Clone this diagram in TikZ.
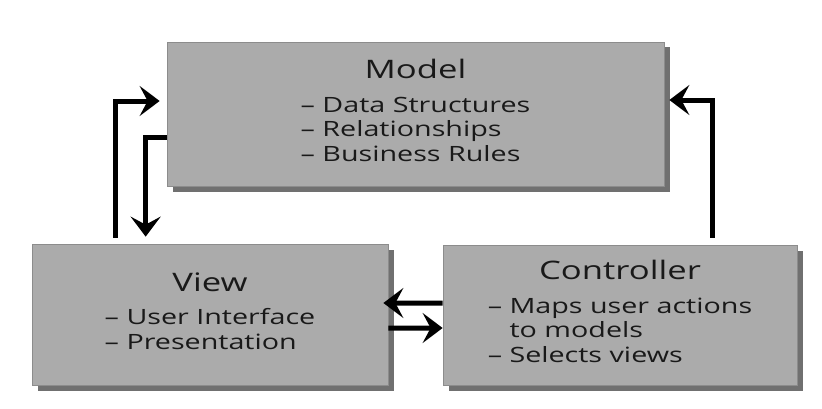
\documentclass[tikz,border=0pt]{standalone}
\usepackage{fontspec}
\setmainfont{Open Sans}[FakeStretch=1.36]
\usepackage{tikz}
\usetikzlibrary{arrows.meta}
\usetikzlibrary{shadows}
\colorlet{boxcol}{black!33}
\colorlet{inkcol}{black!90}
\tikzset{>={Stealth[length=4mm,width=6mm,inset=1.6mm]}}
\tikzset{
  mvcbox/.style={draw=black!45, thin, fill=boxcol, text=inkcol, align=center,
    font=\fontsize{12}{14}\selectfont,
    drop shadow={shadow xshift=0.11cm, shadow yshift=-0.11cm, fill=black!62, opacity=0.9}},
  flow/.style={->, line width=0.1cm, black}
}
\newcommand{\boxtitle}[1]{{\fontsize{14.5}{16}\selectfont #1}}

\begin{document}
\begin{tikzpicture}
                \useasboundingbox (0,0) rectangle (16.44,8.16);

                % the three boxes
                \node[mvcbox, minimum width=9.94cm, minimum height=2.88cm] (model) at (8.31,5.88)
                    {\boxtitle{Model}\\[5pt]\begin{tabular}[t]{@{}l@{}}– Data Structures\\– Relationships\\– Business Rules\end{tabular}};
                \node[mvcbox, minimum width=7.12cm, minimum height=2.82cm] (view) at (4.20,1.87)
                    {\boxtitle{View}\\[5pt]\begin{tabular}[t]{@{}l@{}}– User Interface\\– Presentation\end{tabular}};
                \node[mvcbox, minimum width=7.08cm, minimum height=2.80cm] (ctrl) at (12.40,1.86)
                    {\boxtitle{Controller}\\[5pt]\begin{tabular}[t]{@{}l@{}}– Maps user actions\\\hphantom{– }to models\\– Selects views\end{tabular}};

                % view to model
                \draw[flow] ([xshift=1.68cm,yshift=1.2mm]view.north west) |- ([xshift=-1.4mm,yshift=2.6mm]model.west);
                % model to view
                \draw[flow] ([yshift=-4.6mm]model.west) -| ([xshift=2.28cm,yshift=1.4mm]view.north west);
                % controller to model
                \draw[flow] ([xshift=-1.70cm,yshift=1.4mm]ctrl.north east) |- ([xshift=1mm,yshift=2.8mm]model.east);
                % controller to view
                \draw[flow] ([yshift=2.4mm]ctrl.west) -- ([xshift=-1mm,yshift=2.3mm]view.east);
                % view to controller
                \draw[flow] ([yshift=-2.7mm]view.east) -- ([yshift=-2.6mm]ctrl.west);
            \end{tikzpicture}
\end{document}
